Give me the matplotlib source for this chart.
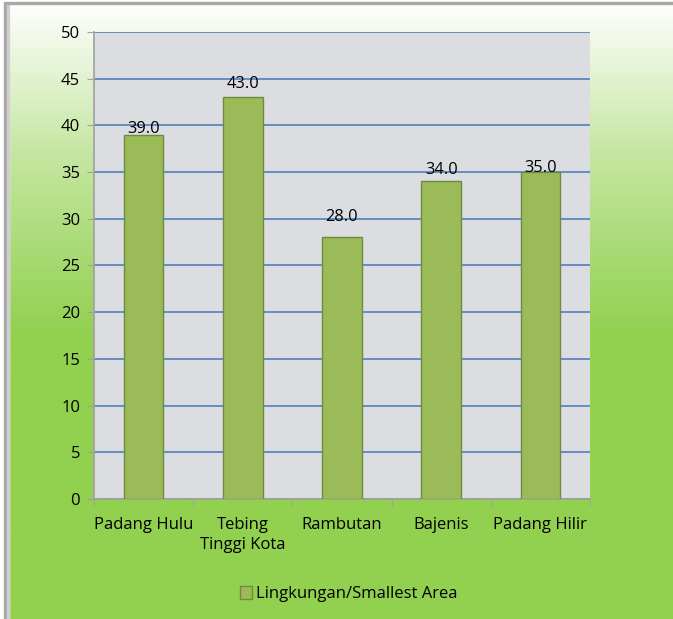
import numpy as np
import matplotlib
matplotlib.use("Agg")
import matplotlib.pyplot as plt
from matplotlib.colors import LinearSegmentedColormap
from matplotlib.patches import Rectangle

plt.rcParams['font.family'] = ['Open Sans', 'DejaVu Sans']

# data
categories = ["Padang Hulu", "Tebing\nTinggi Kota", "Rambutan", "Bajenis", "Padang Hilir"]
values = [39.0, 43.0, 28.0, 34.0, 35.0]
series_name = "Lingkungan/Smallest Area"
yticks = [0, 5, 10, 15, 20, 25, 30, 35, 40, 45, 50]

# gap (points) between bar top and label baseline, as placed in the original
label_gap = [1.5, 7, 11.5, 5, 0]

fig = plt.figure(figsize=(6.73, 6.19), dpi=100)

# background gradient (white at top -> green further down)
bg = fig.add_axes([0, 0, 1, 1], zorder=-10)
cmap = LinearSegmentedColormap.from_list(
    "bg", [(0.0, "#92d050"), (0.46, "#92d050"), (0.75, "#c4e6a0"), (1.0, "#ffffff")])
grad = np.linspace(0, 1, 400).reshape(-1, 1)
bg.imshow(grad, aspect="auto", cmap=cmap, origin="lower", extent=[0, 1, 0, 1])
# frame shadow at top and left
bg.add_patch(Rectangle((0, 0), 0.013, 1, color="white", zorder=2))
bg.add_patch(Rectangle((0.006, 0), 0.004, 0.993, color="#a8a8a8", zorder=3))
bg.add_patch(Rectangle((0.010, 0), 0.003, 0.993, color="#cfcfcf", zorder=3))
bg.add_patch(Rectangle((0, 0.993), 1, 0.007, color="white", zorder=2))
bg.add_patch(Rectangle((0.006, 0.993), 0.994, 0.004, color="#a8a8a8", zorder=3))
bg.set_xlim(0, 1)
bg.set_ylim(0, 1)
bg.axis("off")

ax = fig.add_axes([0.1397, 0.1939, 0.737, 0.7544])
ax.set_facecolor("#dcdde0")

x = np.arange(len(categories))
bars = ax.bar(x, values, width=0.4, color="#9bbb59", edgecolor="#71893f",
              linewidth=1, label=series_name, zorder=3)

for xi, v, g in zip(x, values, label_gap):
    ax.annotate(f"{v:.1f}", (xi, v), xytext=(0, g), textcoords="offset points",
                ha="center", va="baseline", fontsize=11.8, zorder=4)

ax.set_ylim(0, 50)
ax.set_xlim(-0.5, len(categories) - 0.5)
ax.set_yticks(yticks)
ax.yaxis.grid(True, color="#4f81bd", linewidth=1.2, zorder=1)
ax.set_axisbelow(True)

ax.set_xticks(x)
ax.set_xticklabels(categories, fontsize=12, linespacing=1.35)
ax.set_xticks(np.arange(-0.5, len(categories)), minor=True)
ax.tick_params(axis="x", which="major", length=0, pad=13)
ax.tick_params(axis="x", which="minor", length=5, color="#a0a0a0")
ax.tick_params(axis="y", length=5, color="#a0a0a0", labelsize=12, pad=5)

for s in ["top", "right"]:
    ax.spines[s].set_visible(False)
for s in ["left", "bottom"]:
    ax.spines[s].set_color("#a0a0a0")
    ax.spines[s].set_linewidth(1.2)

fig.legend(handles=[bars], labels=[series_name], loc="center",
           bbox_to_anchor=(0.518, 0.04), frameon=False, fontsize=12,
           handlelength=0.75, handleheight=0.75, handletextpad=0.2)

fig.savefig("out.png", dpi=100)
